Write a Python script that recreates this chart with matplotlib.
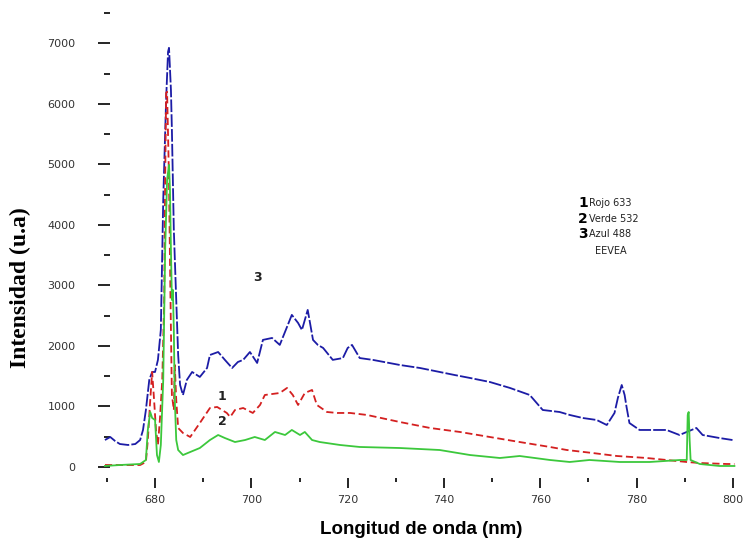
"""Espectros de emision: tres lineas de excitacion (Rojo, Verde, Azul)."""

import matplotlib
matplotlib.use("Agg")
import matplotlib.pyplot as plt
from matplotlib.ticker import MultipleLocator

# === Datos (longitud de onda nm, intensidad u.a.) ===
wl_azul = [669.6, 670.7, 671.7, 672.7, 674.4, 675.9, 676.9, 677.5, 678.1, 678.8,
           679.4, 680.0, 680.6, 681.2, 681.7, 682.3, 682.7, 682.9, 683.3, 683.5,
           683.9, 684.4, 684.8, 685.2, 685.8, 686.6, 687.7, 689.3, 690.8, 691.4,
           693.1, 694.5, 696.0, 697.2, 698.3, 699.7, 701.2, 702.4, 704.3, 705.9,
           707.4, 708.4, 709.7, 710.5, 711.7, 712.8, 713.8, 714.9, 716.9, 719.0,
           720.0, 720.9, 722.5, 725.2, 730.8, 735.0, 739.1, 742.2, 745.4, 749.5,
           753.7, 757.8, 760.5, 764.0, 766.1, 768.8, 771.7, 773.8, 775.4, 776.1,
           776.9, 777.5, 777.9, 778.5, 780.6, 783.3, 786.2, 788.9, 790.4, 792.4,
           793.7, 797.2, 799.9]
int_azul = [446, 496, 430, 380, 364, 380, 446, 612, 942, 1438,
            1570, 1570, 1770, 2264, 4413, 6066, 6860, 6925, 6231, 5570,
            3917, 2760, 1851, 1355, 1190, 1438, 1570, 1488, 1636, 1851,
            1900, 1770, 1636, 1735, 1770, 1900, 1719, 2100, 2132, 2017,
            2314, 2513, 2380, 2264, 2595, 2100, 2017, 1967, 1770, 1800,
            1967, 2017, 1800, 1770, 1686, 1636, 1570, 1520, 1471, 1405,
            1306, 1190, 942, 909, 860, 810, 777, 694, 893, 1141,
            1355, 1190, 992, 727, 612, 612, 612, 529, 579, 645,
            529, 479, 446]

wl_rojo = [669.6, 676.9, 678.1, 678.5, 679.0, 679.4, 679.8, 680.2, 680.6, 681.0,
           681.5, 681.9, 682.1, 682.3, 682.5, 682.7, 682.9, 683.1, 683.3, 683.5,
           683.9, 684.1, 684.4, 684.8, 685.8, 687.3, 689.3, 691.4, 692.9, 694.9,
           695.6, 696.6, 698.3, 700.3, 701.8, 702.8, 705.9, 707.4, 708.6, 709.7,
           711.1, 712.6, 713.6, 715.7, 717.8, 720.5, 724.0, 730.8, 737.1, 743.3,
           749.5, 755.7, 762.0, 765.5, 770.9, 775.9, 782.1, 786.2, 790.4, 793.1,
           798.7, 800.3]
int_rojo = [33, 33, 83, 446, 1107, 1570, 1107, 612, 364, 777,
            1438, 2760, 4744, 6182, 6199, 5488, 4744, 3422, 2264, 1190,
            942, 1686, 1107, 645, 562, 496, 727, 975, 992, 893,
            826, 942, 975, 893, 1025, 1190, 1223, 1306, 1190, 1025,
            1223, 1273, 1025, 909, 893, 893, 860, 744, 645, 579,
            496, 413, 331, 281, 231, 182, 149, 116, 83, 66,
            50, 50]

wl_verde = [669.6, 672.7, 676.9, 678.1, 678.5, 679.0, 679.4, 680.0, 680.4, 680.8,
            681.2, 681.7, 682.1, 682.5, 682.9, 683.1, 683.3, 683.5, 683.7, 683.9,
            684.1, 684.4, 684.8, 685.8, 687.3, 689.3, 691.4, 693.1, 694.5, 696.6,
            698.7, 700.7, 702.8, 704.9, 707.0, 708.4, 710.1, 711.1, 712.6, 714.2,
            718.4, 722.5, 730.8, 739.1, 745.4, 751.6, 755.7, 762.0, 766.1, 770.2,
            776.5, 782.7, 789.0, 790.4, 790.6, 790.8, 791.0, 791.2, 793.1, 797.2,
            800.3]
int_verde = [17, 33, 50, 116, 612, 909, 810, 777, 198, 83,
             364, 1438, 3587, 4744, 4992, 4579, 3587, 2760, 2926, 2264,
             1107, 446, 281, 198, 248, 314, 446, 529, 479, 413,
             446, 496, 446, 579, 529, 612, 529, 579, 446, 413,
             364, 331, 314, 281, 198, 149, 182, 116, 83, 116,
             83, 83, 116, 116, 860, 909, 446, 116, 50, 17,
             17]

# etiquetas sobre las curvas: (texto, nm, intensidad)
curve_labels = [("3", 701.2, 3124), ("1", 693.9, 1157), ("2", 693.9, 744)]
legend_nums = ["1", "2", "3"]
legend_text = ["Rojo 633", "Verde 532", "Azul 488"]
legend_extra = "EEVEA"

fig = plt.figure(figsize=(7.46, 5.52), dpi=100)
ax = fig.add_axes([0.1394, 0.134, 0.8496, 0.8424])

ax.plot(wl_azul, int_azul, color="#1c1ca6", lw=1.3, linestyle=(0, (7, 1.2)))
ax.plot(wl_rojo, int_rojo, color="#d42020", lw=1.3, linestyle=(0, (4, 2)))
ax.plot(wl_verde, int_verde, color="#3cc83c", lw=1.3)

for txt, x, y in curve_labels:
    ax.text(x, y, txt, fontsize=9, fontweight="bold", ha="center", va="center",
            color="#222222")

# leyenda manual
for i, (n, t) in enumerate(zip(legend_nums, legend_text)):
    yy = 0.591 - i * 0.033
    ax.text(0.748, yy, n, transform=ax.transAxes, fontsize=10, fontweight="bold",
            ha="left", va="center")
    ax.text(0.765, yy, t, transform=ax.transAxes, fontsize=7, ha="left",
            va="center", color="#222222")
ax.text(0.80, 0.488, legend_extra, transform=ax.transAxes,
        fontsize=7, ha="center", va="center", color="#222222")

ax.set_xlim(669.4, 801)
ax.set_ylim(-182, 7500)
ax.xaxis.set_major_locator(MultipleLocator(20))
ax.xaxis.set_minor_locator(MultipleLocator(10))
ax.yaxis.set_major_locator(MultipleLocator(1000))
ax.yaxis.set_minor_locator(MultipleLocator(500))

for s in ax.spines.values():
    s.set_visible(False)

ax.tick_params(axis="y", which="major", direction="inout", length=9, width=1.2,
               pad=16, labelsize=8, labelcolor="#333333")
ax.tick_params(axis="y", which="minor", direction="in", length=4, width=1.2)
ax.tick_params(axis="x", which="major", direction="out", length=7, width=1.2,
               pad=5, labelsize=8, labelcolor="#333333")
ax.tick_params(axis="x", which="minor", direction="out", length=3, width=1.2)

ax.set_xlabel("Longitud de onda (nm)", fontsize=13.5, fontweight="bold",
              family="Liberation Sans", labelpad=12)
ax.set_ylabel("Intensidad (u.a)", fontsize=17, fontweight="bold",
              family="Liberation Serif")
ax.yaxis.set_label_coords(-0.115, 0.409)

fig.savefig("out.png", dpi=100)
plt.close(fig)
